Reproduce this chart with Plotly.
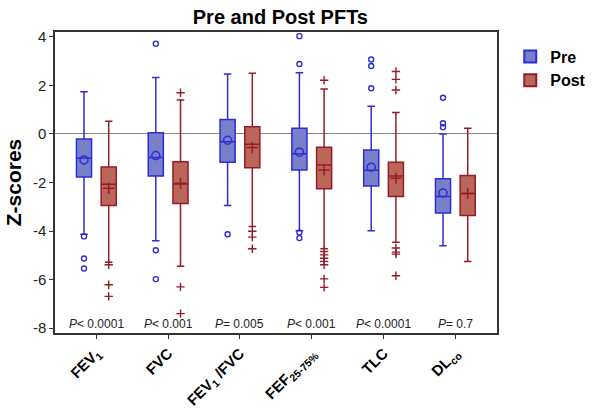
import plotly.graph_objects as go

# ---- data (z-scores) ----
categories = ["FEV<sub>1</sub>", "FVC", "FEV<sub>1</sub> /FVC",
              "FEF<sub>25-75%</sub>", "TLC", "DL<sub>co</sub>"]
p_values = ["<i>P</i>&lt; 0.0001", "<i>P</i>&lt; 0.001", "<i>P</i>= 0.005",
            "<i>P</i>&lt; 0.001", "<i>P</i>&lt; 0.0001", "<i>P</i>= 0.7"]

pre_upper = [1.74, 2.33, 2.47, 2.52, 1.14, 0.00]
pre_q3 = [-0.21, 0.05, 0.60, 0.23, -0.66, -1.85]
pre_median = [-0.99, -0.97, -0.32, -0.82, -1.50, -2.58]
pre_q1 = [-1.77, -1.73, -1.17, -1.48, -2.14, -3.26]
pre_lower = [-4.13, -4.40, -2.95, -3.99, -3.99, -4.61]
pre_mean = [-1.07, -0.89, -0.26, -0.75, -1.37, -2.43]
pre_outliers = [
    [-4.22, -5.13, -5.54],
    [3.72, -4.79, -5.98],
    [-4.13],
    [4.03, 2.88, -4.06, -4.29],
    [3.07, 2.80, 1.88],
    [1.49, 0.44, 0.28],
]

post_upper = [0.52, 1.40, 2.50, 1.85, 0.88, 0.23]
post_q3 = [-1.36, -1.15, 0.30, -0.55, -1.17, -1.71]
post_median = [-2.07, -2.06, -0.42, -1.28, -1.73, -2.45]
post_q1 = [-2.95, -2.87, -1.39, -2.26, -2.58, -3.36]
post_lower = [-5.29, -5.45, -3.81, -4.73, -4.46, -5.25]
post_mean = [-2.24, -2.03, -0.56, -1.48, -1.82, -2.45]
post_outliers = [
    [-5.39, -6.21, -6.69],
    [1.70, -6.30, -7.40],
    [-4.01, -4.25, -4.73],
    [2.21, -4.84, -4.98, -5.12, -5.25, -5.39, -5.97, -6.32],
    [2.57, 2.25, 1.81, -4.70, -4.87, -4.95, -5.84],
    [],
]

y_ticks = [4, 2, 0, -2, -4, -6, -8]

FONT = "Liberation Sans, Arial, sans-serif"
OFFSET = 0.172
BOX_W = 0.21

groups = [
    dict(name="Pre", off=-OFFSET, upper=pre_upper, q3=pre_q3, median=pre_median,
         q1=pre_q1, lower=pre_lower, mean=pre_mean, outliers=pre_outliers,
         fill="rgb(120,128,202)", line="rgb(45,45,215)",
         mean_sym="circle-open", out_sym="circle-open", out_size=5),
    dict(name="Post", off=OFFSET, upper=post_upper, q3=post_q3, median=post_median,
         q1=post_q1, lower=post_lower, mean=post_mean, outliers=post_outliers,
         fill="rgb(186,102,88)", line="rgb(150,28,40)",
         mean_sym="cross-thin-open", out_sym="cross-thin-open", out_size=6),
]

fig = go.Figure()
idx = list(range(len(categories)))

for g in groups:
    xs = [i + g["off"] for i in idx]
    fig.add_trace(go.Box(
        name=g["name"], x=xs,
        q1=g["q1"], median=g["median"], q3=g["q3"],
        lowerfence=g["lower"], upperfence=g["upper"],
        width=BOX_W, whiskerwidth=0.5, boxpoints=False,
        fillcolor=g["fill"], line=dict(color=g["line"], width=1.5),
        hoverinfo="skip",
    ))
    # means
    fig.add_trace(go.Scatter(
        x=xs, y=g["mean"], mode="markers", showlegend=False,
        marker=dict(symbol=g["mean_sym"], size=8, color=g["line"],
                    line=dict(color=g["line"], width=1.5)),
    ))
    # outliers
    ox, oy = [], []
    for i, vals in zip(idx, g["outliers"]):
        for v in vals:
            ox.append(i + g["off"])
            oy.append(v)
    fig.add_trace(go.Scatter(
        x=ox, y=oy, mode="markers", showlegend=False,
        marker=dict(symbol=g["out_sym"], size=g["out_size"],
                    color=g["line"], line=dict(color=g["line"], width=1.4)),
    ))

for i, p in zip(idx, p_values):
    fig.add_annotation(x=i, y=-7.83, text=p, showarrow=False,
                       font=dict(family=FONT, size=12, color="#222"))

fig.update_layout(
    width=603, height=409,
    paper_bgcolor="white", plot_bgcolor="white",
    margin=dict(l=55, r=96, t=32, b=76),
    boxmode="overlay",
    font=dict(family=FONT, color="#111"),
    title=dict(text="<b>Pre and Post PFTs</b>", x=0.465, xanchor="center",
               y=0.975, yanchor="top", font=dict(size=20, color="#000")),
    legend=dict(x=1.03, y=0.975, xanchor="left", yanchor="top",
                font=dict(size=16, color="#000", family=FONT, weight=700),
                itemsizing="constant"),
    xaxis=dict(range=[-0.576, 5.58], tickmode="array", tickvals=idx,
               ticktext=["<b>%s</b>" % c for c in categories],
               tickangle=-45, tickfont=dict(size=15, color="#000"),
               ticks="outside", ticklen=4, tickcolor="#333",
               showline=True, linecolor="#333", linewidth=1.5, mirror=True,
               showgrid=False, zeroline=False, automargin=False),
    yaxis=dict(range=[-8.2, 4.2], tickmode="array", tickvals=y_ticks,
               ticktext=[str(v) for v in y_ticks],
               tickfont=dict(size=15, color="#222"),
               ticks="outside", ticklen=4, tickcolor="#333",
               showline=True, linecolor="#333", linewidth=1.5, mirror=True,
               showgrid=False, zeroline=True, zerolinecolor="#888",
               zerolinewidth=1, automargin=False,
               title=dict(text="<b>Z-scores</b>", font=dict(size=21, color="#000"),
                          standoff=6)),
)

# the page body has a default 8px margin; drop it so the figure sits at 0,0
fig.write_html("out.html", config={"displayModeBar": False},
               post_script="document.body.style.margin='0';")
